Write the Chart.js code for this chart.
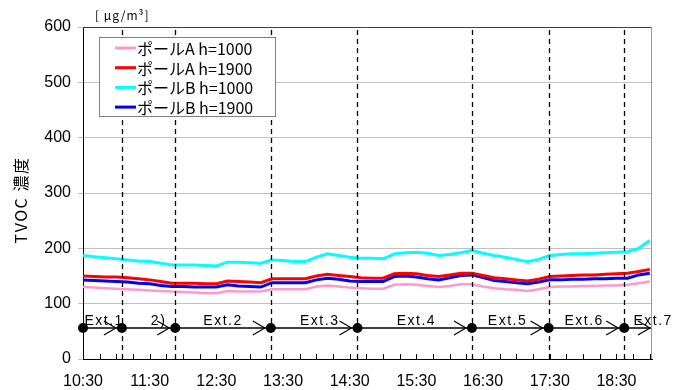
<!DOCTYPE html>
<html><head><meta charset="utf-8">
<script src="https://cdn.jsdelivr.net/npm/chart.js@4"></script>
<style>html,body{margin:0;padding:0;background:#fff;}</style>
</head><body>
<canvas id="c" width="684" height="390"></canvas>
<script>
const times = ["10:30","10:40","10:50","11:00","11:10","11:20","11:30","11:40","11:50","12:00","12:10","12:20","12:30","12:40","12:50","13:00","13:10","13:20","13:30","13:40","13:50","14:00","14:10","14:20","14:30","14:40","14:50","15:00","15:10","15:20","15:30","15:40","15:50","16:00","16:10","16:20","16:30","16:40","16:50","17:00","17:10","17:20","17:30","17:40","17:50","18:00","18:10","18:20","18:30","18:40","18:50","19:00"];
const poleA1000 = [130,129,128,127,126,125,124,123,122,121,120,119,119,123,122,122,122,126,126,126,126,131,133,131,129,128,127,127,134,135,134,132,130,132,135,135,131,128,126,125,123,126,130,131,131,132,132,133,133,134,137,140];
const poleA1900 = [150,149,148,148,147,145,143,140,137,137,137,136,136,141,140,139,138,145,145,145,145,150,153,151,149,147,146,146,154,155,154,151,149,152,155,155,151,147,145,143,141,144,149,150,151,152,152,153,154,155,158,162];
const poleB1000 = [187,185,183,181,179,177,176,173,170,170,170,169,168,175,175,174,173,179,178,176,176,184,190,187,184,182,182,181,190,192,193,191,187,189,192,196,191,187,184,180,176,180,187,189,190,190,191,192,193,194,200,214];
const poleB1900 = [143,142,141,140,139,137,136,133,131,131,130,130,130,134,132,131,130,138,138,138,138,143,146,144,141,140,140,140,149,150,148,145,143,147,151,152,147,142,140,138,136,139,143,143,144,144,145,145,146,146,152,155];
const seriesNames = ["ポールA h=1000","ポールA h=1900","ポールB h=1000","ポールB h=1900"];
const seriesColors = ["#FF99CC","#FF0000","#00FFFF","#0000FF"];
const xTickLabels = ["10:30","11:30","12:30","13:30","14:30","15:30","16:30","17:30","18:30"];
const xStart = "10:30", xEnd = "19:02";
const yTicks = [0,100,200,300,400,500,600];
const dividerTimes = ["11:05","11:53","13:19","14:37","16:20","17:29","18:37"];
const extLabels = ["Ext.1","2)","Ext.2","Ext.3","Ext.4","Ext.5","Ext.6","Ext.7"];
const extLabelTimes = ["10:49","11:38","12:36","14:03","15:30","16:52","18:01","19:03"];
const trackLevel = 56, extLabelLevel = 69;
const yTitle = "TVOC 濃度", unitLabel = "[ μg/m³]";

const toMin = s => { const [h,m] = s.split(":").map(Number); return h*60+m - (10*60+30); };
const fmt = v => { const t = v + 630; return Math.floor(t/60) + ":" + String(t%60).padStart(2,"0"); };

const allSeries = [poleA1000, poleA1900, poleB1000, poleB1900];
const datasets = allSeries.map((vals,i)=>({
  label: seriesNames[i],
  data: vals.map((v,j)=>({x: toMin(times[j]), y: v})),
  borderColor: seriesColors[i],
  backgroundColor: seriesColors[i],
  borderWidth: i===0 ? 2.5 : 3,
  pointRadius: 0, tension: 0, fill: false
}));
const trackPts = [xStart].concat(dividerTimes).map(t=>({x: toMin(t), y: trackLevel}));
trackPts.push({x: toMin(xEnd), y: trackLevel});
datasets.push({
  label: "track", data: trackPts, borderColor: "#000", backgroundColor: "#000",
  borderWidth: 1.5, pointRadius: trackPts.map((p,i)=> i===trackPts.length-1 ? 0 : 5),
  pointBorderWidth: 0, tension: 0, fill: false, clip: false
});

const overlay = {
  id: "overlay",
  beforeDatasetsDraw(chart){
    const ctx = chart.ctx, xs = chart.scales.x, a = chart.chartArea;
    ctx.save();
    ctx.strokeStyle = "#000"; ctx.lineWidth = 1;
    for (let m = 0; m <= toMin(xEnd); m += 15) {
      const px = Math.round(xs.getPixelForValue(m)) + 0.5;
      ctx.beginPath(); ctx.moveTo(px, a.bottom); ctx.lineTo(px, a.bottom - 5); ctx.stroke();
    }
    ctx.restore();
  },
  afterDatasetsDraw(chart){
    const ctx = chart.ctx, xs = chart.scales.x, ys = chart.scales.y, a = chart.chartArea;
    ctx.save();
    ctx.lineWidth = 1;
    ctx.strokeStyle = "#404040";
    ctx.beginPath(); ctx.moveTo(a.left, a.top+0.5); ctx.lineTo(a.right, a.top+0.5); ctx.stroke();
    ctx.strokeStyle = "#999";
    ctx.beginPath(); ctx.moveTo(a.right-0.5, a.top); ctx.lineTo(a.right-0.5, a.bottom); ctx.stroke();
    ctx.strokeStyle = "#000"; ctx.lineWidth = 1.3; ctx.setLineDash([5,4]);
    dividerTimes.forEach(t=>{
      const px = Math.round(xs.getPixelForValue(toMin(t))) + 0.5;
      ctx.beginPath(); ctx.moveTo(px, a.bottom); ctx.lineTo(px, a.top); ctx.stroke();
    });
    ctx.setLineDash([]);
    const ty = ys.getPixelForValue(trackLevel);
    ctx.lineWidth = 1.2;
    dividerTimes.concat([xEnd]).forEach((t,i)=>{
      const px = xs.getPixelForValue(toMin(t)) - (i < dividerTimes.length ? 6 : 2);
      ctx.beginPath(); ctx.moveTo(px-12, ty-7); ctx.lineTo(px, ty); ctx.lineTo(px-12, ty+7); ctx.stroke();
    });
    ctx.fillStyle = "#000"; ctx.font = "14px 'Liberation Sans', Arial, sans-serif";
    ctx.letterSpacing = "1.5px";
    ctx.textAlign = "center"; ctx.textBaseline = "middle";
    extLabels.forEach((l,i)=>{
      ctx.fillText(l, xs.getPixelForValue(toMin(extLabelTimes[i])), ys.getPixelForValue(extLabelLevel));
    });
    ctx.letterSpacing = "0px";
    const lx = 99, ly = 37, lw = 176, lh = 79;
    ctx.fillStyle = "#fff"; ctx.fillRect(lx, ly, lw, lh);
    ctx.strokeStyle = "#808080"; ctx.lineWidth = 1; ctx.strokeRect(lx+0.5, ly+0.5, lw, lh);
    ctx.font = "16px 'Noto Sans CJK JP', sans-serif"; ctx.textAlign = "left"; ctx.textBaseline = "middle";
    seriesNames.forEach((n,i)=>{
      const yy = ly + 11 + i*19.7;
      ctx.strokeStyle = seriesColors[i]; ctx.lineWidth = 3;
      ctx.beginPath(); ctx.moveTo(lx+16, yy); ctx.lineTo(lx+37, yy); ctx.stroke();
      ctx.fillStyle = "#000"; ctx.fillText(n, lx+38, yy+1);
    });
    ctx.save();
    ctx.translate(21, 200); ctx.rotate(-Math.PI/2);
    ctx.font = "16px 'Noto Sans CJK JP', sans-serif"; ctx.textAlign = "center"; ctx.textBaseline = "middle";
    ctx.letterSpacing = "1.5px";
    ctx.fillText(yTitle, 0, 0);
    ctx.restore();
    ctx.font = "12px 'Noto Sans CJK JP', sans-serif"; ctx.textAlign = "left"; ctx.textBaseline = "middle";
    ctx.letterSpacing = "1px";
    ctx.fillText(unitLabel, 95, 15);
    ctx.restore();
  }
};

new Chart(document.getElementById("c"), {
  type: "line",
  data: { datasets },
  options: {
    responsive: false, animation: false, devicePixelRatio: 1,
    layout: { padding: { top: 27, right: 32, left: 0, bottom: 0 } },
    plugins: { legend: { display: false }, tooltip: { enabled: false } },
    scales: {
      x: {
        type: "linear", min: toMin(xStart), max: toMin(xEnd),
        afterBuildTicks: s => { s.ticks = xTickLabels.map(l=>({value: toMin(l)})); },
        afterFit: s => { s.height = 31; },
        grid: { display: false, drawTicks: false },
        border: { display: true, color: "#000", width: 1 },
        ticks: { callback: v => fmt(v), color: "#000", font: { size: 16, family: "'Liberation Sans', Arial, sans-serif" }, padding: 13, maxRotation: 0, autoSkip: false }
      },
      y: {
        min: 0, max: 600,
        afterBuildTicks: s => { s.ticks = yTicks.map(v=>({value: v})); },
        afterFit: s => { s.width = 83; },
        grid: { color: "#c0c0c0", tickLength: 5 },
        border: { display: true, color: "#000", width: 1 },
        ticks: { color: "#000", font: { size: 16, family: "'Liberation Sans', Arial, sans-serif" }, padding: 7 }
      }
    }
  },
  plugins: [overlay]
});
</script>
</body></html>
